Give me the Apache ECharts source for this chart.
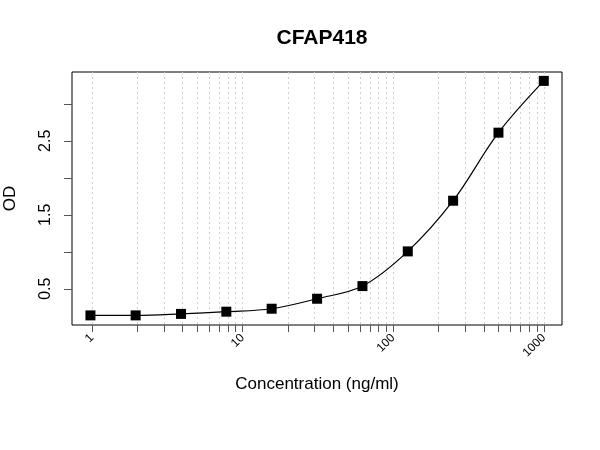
<!DOCTYPE html>
<html>
<head>
<meta charset="utf-8">
<script src="https://cdn.jsdelivr.net/npm/echarts@6/dist/echarts.min.js"></script>
<style>html,body{margin:0;padding:0;background:#fff}#c{width:600px;height:450px}</style>
</head>
<body>
<div id="c"></div>
<script>
var concentrations = [0.977, 1.95, 3.9, 7.8, 15.6, 31.25, 62.5, 125, 250, 500, 1000];
var odValues = [0.14, 0.14, 0.16, 0.19, 0.23, 0.365, 0.536, 1.005, 1.69, 2.61, 3.31];
var xTickValues = [1,2,3,4,5,6,7,8,9,10,20,30,40,50,60,70,80,90,100,200,300,400,500,600,700,800,900,1000];
var xLabelValues = [1, 10, 100, 1000];
var yTickValues = [0.5, 1, 1.5, 2, 2.5, 3];
var yLabelValues = [0.5, 1.5, 2.5];

var pts = concentrations.map(function (c, i) { return [c, odValues[i]]; });
var font = 'Liberation Sans, Arial, sans-serif';
var chart = echarts.init(document.getElementById('c'), null, {renderer: 'canvas'});
chart.setOption({
  animation: false,
  backgroundColor: '#fff',
  title: {
    text: 'CFAP418', left: 317, top: 23, textAlign: 'center',
    textStyle: {fontFamily: font, fontSize: 21, fontWeight: 'bold', color: '#000'}
  },
  grid: {left: 72, right: 38, top: 72, bottom: 125, containLabel: false, outerBoundsMode: 'none',
    show: true, borderColor: '#000', borderWidth: 1, backgroundColor: 'transparent'},
  xAxis: {
    type: 'log', min: 0.737, max: 1321,
    name: 'Concentration (ng/ml)', nameLocation: 'middle', nameGap: 51,
    nameTextStyle: {fontFamily: font, fontSize: 17, color: '#000'},
    axisLine: {show: false},
    axisTick: {show: true, customValues: xTickValues, length: 7, lineStyle: {color: '#555'}},
    axisLabel: {customValues: xLabelValues, rotate: 45, margin: 11, fontFamily: font, fontSize: 12, color: '#000',
      formatter: function (v) { return String(Math.round(v)); }},
    splitLine: {show: true, lineStyle: {color: '#d0d0d0', type: [2, 3], width: 1}}
  },
  yAxis: {
    type: 'value', min: 0.01, max: 3.43,
    name: 'OD', nameLocation: 'middle', nameGap: 53,
    nameTextStyle: {fontFamily: font, fontSize: 17, color: '#000'},
    axisLine: {show: false},
    axisTick: {show: true, customValues: yTickValues, length: 8, lineStyle: {color: '#555'}},
    axisLabel: {customValues: yLabelValues, rotate: 90, margin: 18, fontFamily: font, fontSize: 16, color: '#000',
      formatter: function (v) { return v.toFixed(1); }},
    splitLine: {show: false}
  },
  series: [{
    type: 'line', data: pts, smooth: 0.35,
    symbol: 'rect', symbolSize: 10,
    itemStyle: {color: '#000'},
    lineStyle: {color: '#000', width: 1.2}
  }]
});
</script>
</body>
</html>
